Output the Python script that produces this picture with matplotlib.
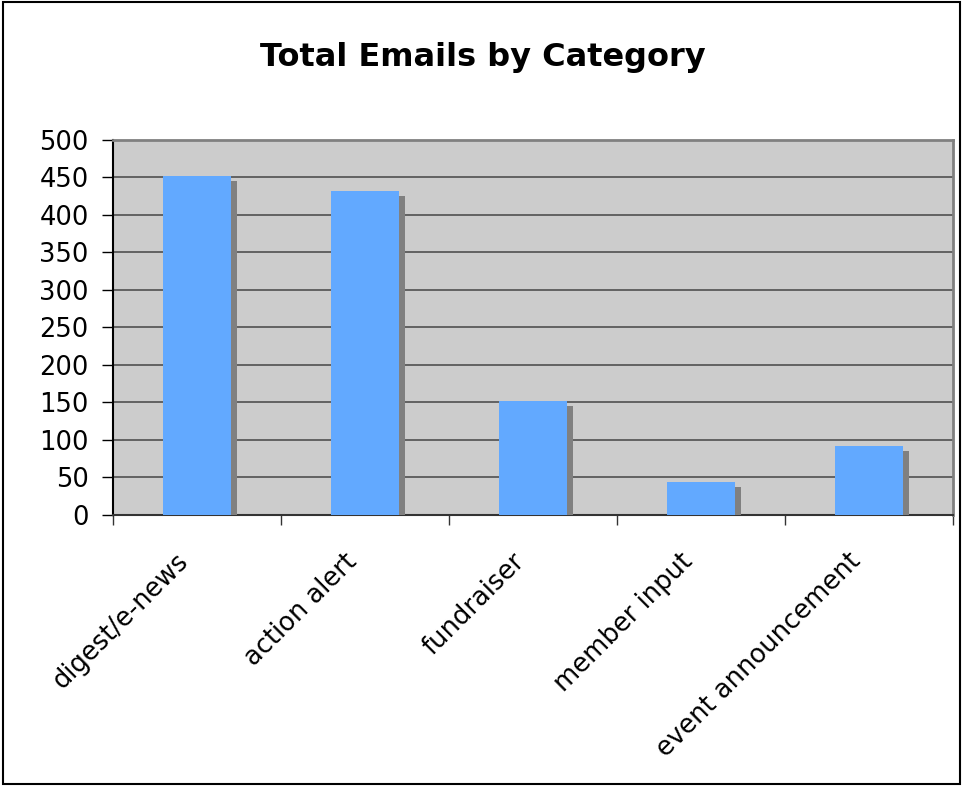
import numpy as np
import matplotlib.pyplot as plt
import matplotlib.patheffects as pe
from matplotlib.patches import Rectangle
from matplotlib.transforms import ScaledTranslation

# Данные
categories = ['digest/e-news', 'action alert', 'fundraiser', 'member input', 'event announcement']
emails = [452, 432, 151, 44, 91]
y_ticks = np.arange(0, 501, 50)

fig = plt.figure(figsize=(9.63, 7.86), dpi=100)
fig.patches.append(Rectangle((0.003, 0.003), 0.994, 0.994, transform=fig.transFigure,
                             fill=False, edgecolor='black', linewidth=1.5))

ax = fig.add_axes([0.1173, 0.3454, 0.8723, 0.4771])
ax.set_facecolor('#cccccc')

x = np.arange(len(categories))
shadow = [pe.SimplePatchShadow(offset=(4.3, -3.6), shadow_rgbFace='#808080', alpha=1.0), pe.Normal()]
bars = ax.bar(x, emails, width=0.405, color='#62a9ff', zorder=3)
for b in bars:
    b.set_path_effects(shadow)

ax.set_xlim(-0.5, len(categories) - 0.5)
ax.set_ylim(0, 500)
ax.set_yticks(y_ticks)
ax.yaxis.grid(True, color='#505050', linewidth=1.2, zorder=1)
ax.set_axisbelow(True)

# деления на границах категорий, подписи в центрах
ax.set_xticks(np.arange(len(categories) + 1) - 0.5)
ax.set_xticklabels([])
ax.set_xticks(x, minor=True)
ax.set_xticklabels(categories, minor=True, rotation=45, ha='right', va='center',
                   rotation_mode='anchor', fontsize=18.5)
ax.tick_params(axis='x', which='minor', length=0, pad=31)
ax.tick_params(axis='x', which='major', length=7, width=1, color='#333333')
ax.tick_params(axis='y', length=8, width=1, labelsize=18.5, pad=9.5)

# сдвиг подписей немного влево
shift = ScaledTranslation(-0.12, 0, fig.dpi_scale_trans)
for lbl in ax.get_xticklabels(minor=True):
    lbl.set_transform(lbl.get_transform() + shift)

for s in ['top', 'right']:
    ax.spines[s].set_color('#808080')
    ax.spines[s].set_linewidth(2)
ax.spines['left'].set_color('black')
ax.spines['bottom'].set_color('#333333')
ax.spines['left'].set_linewidth(1.5)
ax.spines['bottom'].set_linewidth(1.5)

fig.text(0.5015, 0.916, 'Total Emails by Category', ha='center', va='baseline',
         fontsize=23, fontweight='bold')

fig.savefig('out.png', dpi=100)
